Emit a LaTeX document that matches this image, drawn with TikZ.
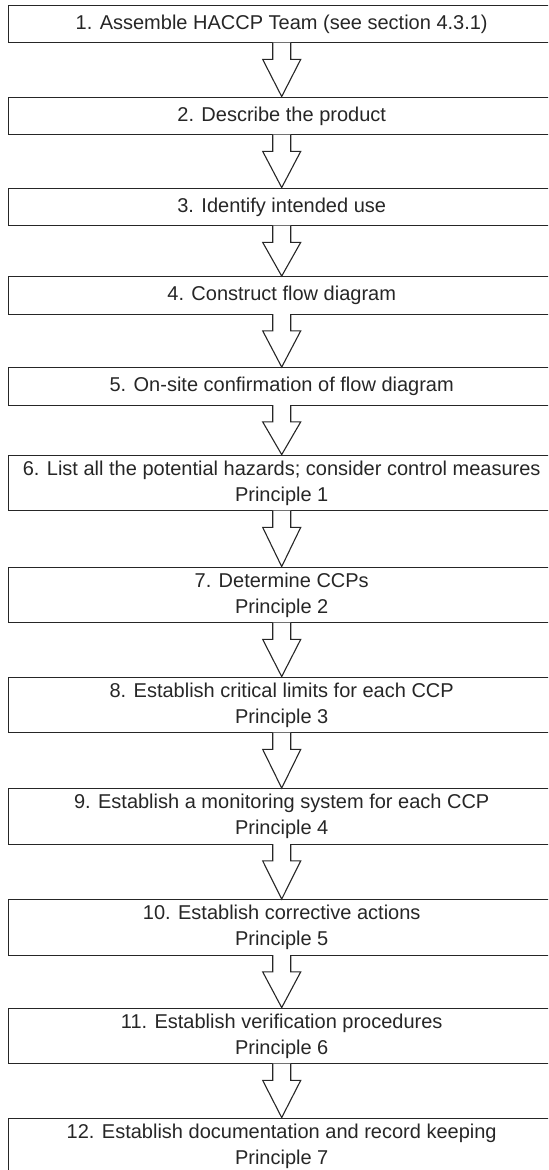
\documentclass[tikz,border=0pt]{standalone}
\usepackage{fontspec}
\setmainfont{Liberation Sans}
\usetikzlibrary{calc}
\definecolor{ink}{gray}{0.15}
\tikzset{
    every node/.style={rectangle, draw=ink, line width=0.65pt, text=ink, align=center,
        minimum width=273.4pt, inner sep=0pt, font=\fontsize{10}{13}\selectfont}
}
\tikzset{onebox/.style={minimum height=18.75pt}}
\tikzset{twobox/.style={minimum height=27.75pt}}
\tikzset{
    blockarrow/.style={draw=ink, fill=white, line width=0.55pt, line join=miter,
        to path={($(\tikztostart.south)+(-9,-0.8)$) -- ++(0,16.8) -- ++(-10,0)
            -- (\tikztotarget.north) -- ($(\tikztostart.south)+(19,16)$) -- ++(-10,0) -- ++(0,-16.8)}}
}

\begin{document}
\begin{tikzpicture}[x=0.5pt, y=-0.5pt]
    \useasboundingbox (0,0) rectangle (548,1170);
    \clip (0,0) rectangle (548,1170);

    \node (s1) [onebox] at (281.7, 24.0) {1. Assemble HACCP Team (see section 4.3.1)};
    \node (s2) [onebox] at (281.7, 116.0) {2. Describe the product};
    \node (s3) [onebox] at (281.7, 207.0) {3. Identify intended use};
    \node (s4) [onebox] at (281.7, 295.5) {4. Construct flow diagram};
    \node (s5) [onebox] at (281.7, 386.5) {5. On-site confirmation of flow diagram};
    \node (s6) [twobox] at (281.7, 483.0) {6. List all the potential hazards; consider control measures\\Principle 1};
    \node (s7) [twobox] at (281.7, 595.0) {7. Determine CCPs\\Principle 2};
    \node (s8) [twobox] at (281.7, 705.0) {8. Establish critical limits for each CCP\\Principle 3};
    \node (s9) [twobox] at (281.7, 816.5) {9. Establish a monitoring system for each CCP\\Principle 4};
    \node (s10) [twobox] at (281.7, 927.5) {10. Establish corrective actions\\Principle 5};
    \node (s11) [twobox] at (281.7, 1036.0) {11. Establish verification procedures\\Principle 6};
    \node (s12) [twobox] at (281.7, 1146.0) {12. Establish documentation and record keeping\\Principle 7};

    \draw[blockarrow] (s1) to (s2);
    \draw[blockarrow] (s2) to (s3);
    \draw[blockarrow] (s3) to (s4);
    \draw[blockarrow] (s4) to (s5);
    \draw[blockarrow] (s5) to (s6);
    \draw[blockarrow] (s6) to (s7);
    \draw[blockarrow] (s7) to (s8);
    \draw[blockarrow] (s8) to (s9);
    \draw[blockarrow] (s9) to (s10);
    \draw[blockarrow] (s10) to (s11);
    \draw[blockarrow] (s11) to (s12);
\end{tikzpicture}
\end{document}
